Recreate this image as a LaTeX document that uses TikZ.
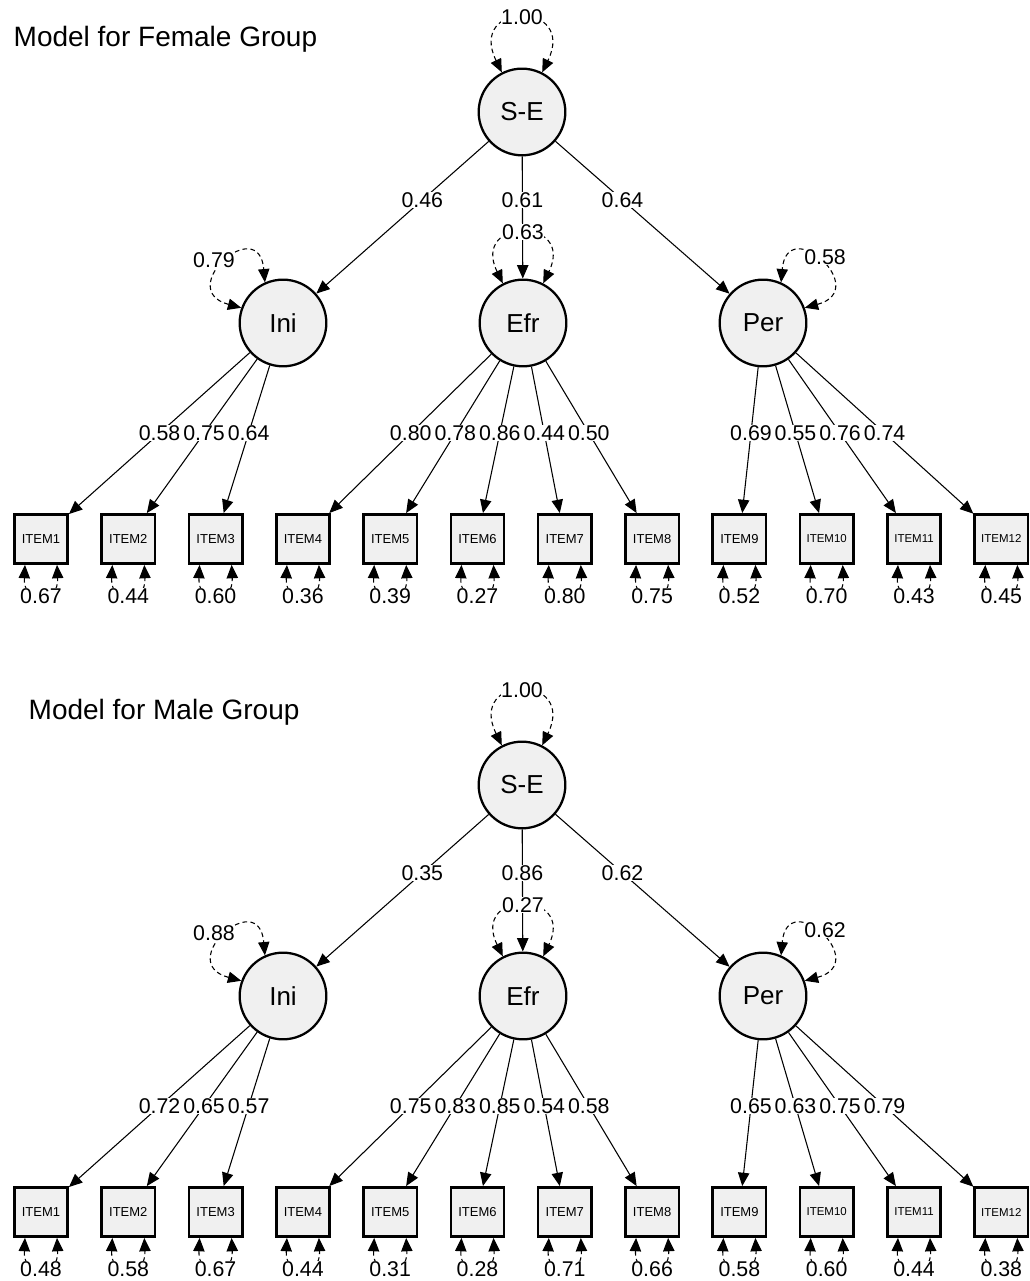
\documentclass[tikz,border=0pt]{standalone}
\usepackage{fontspec}
\setmainfont{Liberation Sans}
\usetikzlibrary{calc,arrows.meta}

\begin{document}
\begin{tikzpicture}[x=0.75pt,y=0.75pt,>={Triangle[length=10pt,width=8.5pt]},
    latent/.style={circle,draw,line width=1.7pt,fill=gray!12,minimum size=65pt,inner sep=0pt,font=\fontsize{19.5}{22}\selectfont},
    observed/.style={rectangle,draw,line width=1.9pt,fill=gray!12,minimum width=40pt,minimum height=37pt,inner sep=0pt,font=\fontsize{#1}{#1}\selectfont},
    load/.style={->,line width=0.8pt},
    var/.style={<->,dashed,dash pattern=on 3.5pt off 2.5pt,line width=0.8pt},
    coef/.style={fill=white,inner sep=0.4pt,font=\fontsize{16}{18}\selectfont},
    title/.style={anchor=base west,font=\fontsize{21}{24}\selectfont}]

    \useasboundingbox (0,0) rectangle (1029,1281);

    % Un panneau par groupe : nom, origine, titre, S-E -> facteurs, variances, saturations, résidus
    \foreach \g/\oy/\tx/\ttl/\li/\le/\lp/\vi/\ve/\vp/\ld/\rs in {%
        f/1281/9/{Model for Female Group}/0.46/0.61/0.64/0.79/0.63/0.58/{0.58,0.75,0.64,0.80,0.78,0.86,0.44,0.50,0.69,0.55,0.76,0.74}/{0.67,0.44,0.60,0.36,0.39,0.27,0.80,0.75,0.52,0.70,0.43,0.45},%
        m/608/24/{Model for Male Group}/0.35/0.86/0.62/0.88/0.27/0.62/{0.72,0.65,0.57,0.75,0.83,0.85,0.54,0.58,0.65,0.63,0.75,0.79}/{0.48,0.58,0.67,0.44,0.31,0.28,0.71,0.66,0.58,0.60,0.44,0.38}}
    {
        \node[title] at (\tx,{\oy-47}) {\ttl};

        % Facteur général et facteurs de premier ordre
        \node[latent] (\g SE) at (522,{\oy-112}) {S-E};
        \node[latent] (\g Ini) at (283,{\oy-323}) {Ini};
        \node[latent] (\g Efr) at (523,{\oy-323}) {Efr};
        \node[latent] (\g Per) at (763,{\oy-323}) {Per};

        % Saturations de S-E
        \draw[load] (\g SE) -- (\g Ini);
        \draw[load] (\g SE) -- (\g Efr);
        \draw[load] (\g SE) -- (\g Per);
        \node[coef] at ($(\g SE)!0.417!(\g Ini)$) {\li};
        \node[coef] at ($(\g SE)!0.417!(\g Efr)$) {\le};
        \node[coef] at ($(\g SE)!0.417!(\g Per)$) {\lp};

        % Variances (flèches en pointillés)
        \draw[var] (\g SE.117) .. controls +(116:80) and +(64:80) .. (\g SE.63);
        \node[coef] at ($(\g SE)+(0,95)$) {1.00};
        \draw[var] (\g Efr.117) .. controls +(116:74) and +(64:74) .. (\g Efr.63);
        \node[coef] at ($(\g Efr)+(0,91)$) {\ve};
        \draw[var] (\g Ini.160) .. controls +(165:70) and +(95:70) .. (\g Ini.114);
        \node[coef] at ($(\g Ini)+(-69,63)$) {\vi};
        \draw[var] (\g Per.20) .. controls +(15:70) and +(85:70) .. (\g Per.66);
        \node[coef] at ($(\g Per)+(62,66)$) {\vp};

        % Items et résidus
        \foreach \r [count=\i] in \rs {
            \ifnum\i>9 \def\isz{8.6}\else\def\isz{9.75}\fi
            \node[observed=\isz] (\g it\i) at ({41+(\i-1)*87.3},{\oy-539}) {ITEM\i};
            \draw[var] ([xshift=-12pt]\g it\i.south) .. controls +(-93:40) and +(-87:40) .. ([xshift=12pt]\g it\i.south);
            \node[coef] at ({41+(\i-1)*87.3},{\oy-596}) {\r};
        }

        % Saturations des items
        \foreach \v [count=\i] in \ld {
            \ifnum\i<4 \def\fac{Ini}\else\ifnum\i<9 \def\fac{Efr}\else\def\fac{Per}\fi\fi
            \draw[load] (\g\fac) -- (\g it\i);
            \node[coef] at ($(\g\fac)!0.51!(\g it\i)$) {\v};
        }
    }
\end{tikzpicture}
\end{document}
